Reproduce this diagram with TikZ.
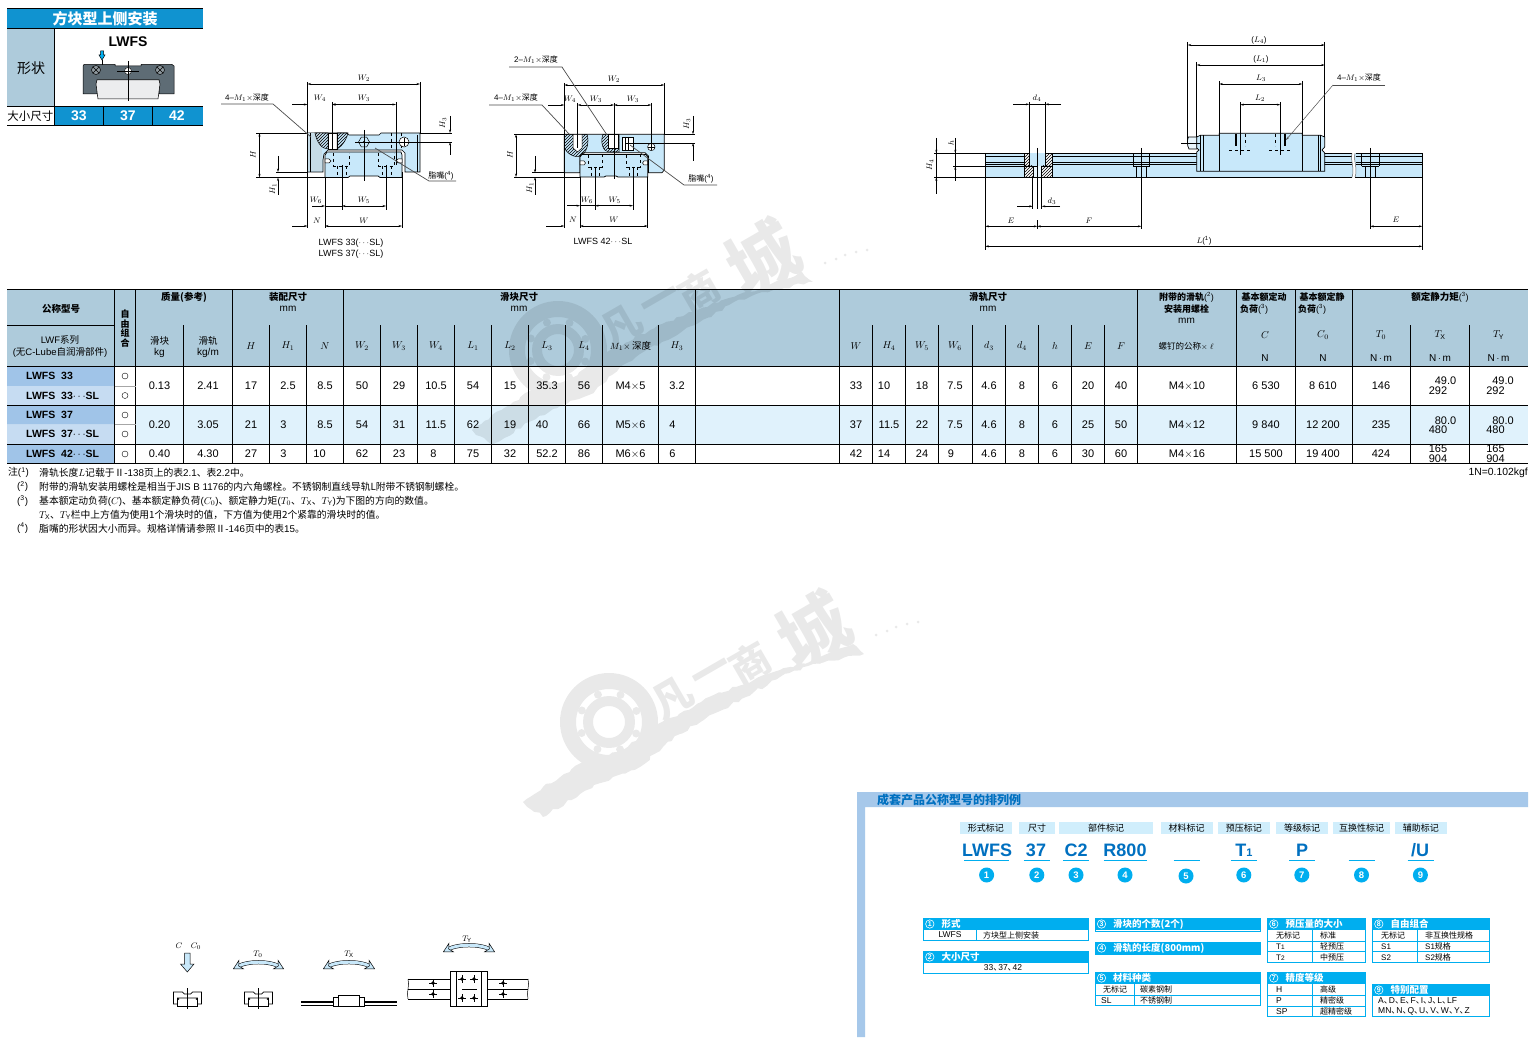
\documentclass[tikz,border=0pt]{standalone}
\usepackage{fontspec}
\setmainfont{Liberation Sans}
\newfontfamily\cjk{Noto Sans CJK SC}
\newcommand{\zh}[1]{{\cjk #1}}
\newcommand{\dun}{\zh{、}\kern-3.5pt}
\newcommand{\fs}[1]{\fontsize{#1}{#1}\selectfont}
\usetikzlibrary{arrows.meta,patterns,shapes.geometric,decorations.pathmorphing}
\definecolor{bandblue}{HTML}{1093D0}
\definecolor{headgray}{HTML}{AECBDB}
\definecolor{partblue}{HTML}{C8E8FA}
\definecolor{rowblue}{HTML}{E0F2FC}
\definecolor{namedark}{HTML}{A0C4E8}
\definecolor{namelight}{HTML}{C6DCF2}
\definecolor{sideblue}{HTML}{A6C8EA}
\definecolor{titleblue}{HTML}{0070C0}
\definecolor{tagblue}{HTML}{D0EEFC}
\definecolor{keycyan}{HTML}{00AEEF}
\definecolor{icondark}{HTML}{5E6C75}
\tikzset{
  >={Stealth[length=3.5pt,width=2pt]},
  lne/.style={line width=.7pt},
  thinl/.style={line width=.5pt},
  dim/.style={line width=.5pt,<->},
  dimin/.style={line width=.5pt,->},
  body/.style={line width=.7pt,fill=partblue},
  hatchf/.style={pattern=north east lines},
  txt/.style={inner sep=0pt,font=\fs{9}},
  note/.style={inner sep=0pt,anchor=west,font=\fs{9.8}},
  lab/.style={inner sep=0pt,font=\fs{8}},
  cell/.style={inner sep=0pt,font=\fs{11}},
  hd/.style={inner sep=0pt,font=\fs{10}},
  hdb/.style={inner sep=0pt,font=\fs{9.5}\bfseries},
  keyt/.style={inner sep=0pt,font=\fs{8.5}},
  minisec/.pic={
    \draw[lne,fill=white] (-14,7) -- (-14,-5) -- (-5,-5) -- (-3,-3) -- (3,-3) -- (5,-5) -- (14,-5) -- (14,7) -- (10,7) -- (10,1) -- (-10,1) -- (-10,7) -- cycle;
    \draw[lne] (-10,1) -- (-10,9) -- (10,9) -- (10,1);
    \draw[thinl] (0,-9) -- (0,12);
    \fill (-9,2) circle (.9pt) (9,2) circle (.9pt);
  },
  wmark/.pic={
    \begin{scope}[transparency group,opacity=.085]
    \fill[even odd rule] (0,0) circle (49pt) circle (33pt) circle (26pt) circle (16pt);
    \foreach \a in {22,67,112,157,202,247,292,337} \fill (\a:29.5pt) circle (4pt);
    \fill[decorate,decoration={random steps,segment length=5pt,amplitude=1.6pt}] (-86,80) -- (-66,65) -- (-45,52) -- (-26,40) -- (10,30) -- (49,2) -- (70,-8) -- (100,-25) -- (127,-35) -- (171,-52) -- (204,-62) -- (244,-78) -- (255,-68) -- (204,-58) -- (171,-45) -- (137,-25) -- (104,-8) -- (71,12) -- (54,25) -- (31,45) -- (4,55) -- (-29,72) -- (-66,95) -- cycle;
    \foreach \a/\b in {267/-87,278/-91,287/-95,298/-98,309/-100} \fill (\a,\b) circle (1.5pt);
    \node[inner sep=0pt,rotate=30,font=\fs{40}\cjk\bfseries] (fan) at (64,-24) {凡};
    \node[inner sep=0pt,rotate=30,font=\fs{40}\cjk\bfseries] (yi) at (104,-47) {一};
    \node[inner sep=0pt,rotate=30,font=\fs{40}\cjk\bfseries] (shang) at (141,-59) {商};
    \node[inner sep=0pt,rotate=30,font=\fs{70}\cjk\bfseries] (cheng) at (204,-92) {城};
    \end{scope}
  },
}
\newcommand{\keybox}[7]{% x1 x2 y1 y2 num title node name
  \fill[keycyan] (#1,#3) rectangle (#2,#3+12);
  \draw[keycyan,line width=.8pt] (#1,#3) rectangle (#2,#4);
  \draw[white,line width=.6pt] (#1+6.5,#3+6) circle (4.2pt);
  \node[inner sep=0pt,white,font=\fs{7}\bfseries] (n#7) at (#1+6.5,#3+6) {#5};
  \node[inner sep=0pt,white,anchor=west,font=\fs{9.5}\cjk\bfseries] (t#7) at (#1+18,#3+6) {#6};
}
\begin{document}
\begin{tikzpicture}[x=1pt,y=-1pt]
\useasboundingbox (0,0) rectangle (1535,1038);
\fill[white] (0,0) rectangle (1535,1038);
% selection panel
\fill[bandblue] (7,8) rectangle (203,28);
\fill[headgray] (7,28) rectangle (54,106);
\fill[bandblue] (54,106) rectangle (203,125);
\draw[lne] (7,8.5) -- (203,8.5) (7,28) -- (203,28) (7,106) -- (203,106) (7,125) -- (203,125);
\draw[lne] (54,28) -- (54,125) (103.5,106) -- (103.5,125) (152.5,106) -- (152.5,125);
\node[inner sep=0pt,white,font=\fs{15}\cjk\bfseries] (pTitle) at (105,19) {方块型上侧安装};
\node[inner sep=0pt,font=\fs{14}\cjk] (pShape) at (31,68) {形状};
\node[inner sep=0pt,font=\fs{14}\bfseries] (pName) at (128,42) {LWFS};
\node[inner sep=0pt,font=\fs{11.5}\cjk] (pSize) at (30.5,116) {大小尺寸};
\foreach \x/\s in {79/33,128/37,177/42}
  \node[inner sep=0pt,white,font=\fs{14}\bfseries] (p\s) at (\x,116) {\s};
% selection panel icon
\draw[line width=.5pt,fill=icondark] (83,66) -- (84,64.5) -- (115,64.5) -- (115,66) -- (141,66) -- (141,64.5) -- (172,64.5) -- (174,66) -- (174,94) -- (159,94) -- (159,80) -- (97,80) -- (97,94) -- (83,94) -- cycle;
\draw[line width=.5pt,fill=white!88!icondark] (97,80) -- (159,80) -- (160,84) -- (158,99) -- (98,99) -- (96,84) -- cycle;
\foreach \x in {96,160} {
  \draw[line width=.5pt,fill=icondark!70!white] (\x,70) circle (4.5pt);
  \draw[line width=.4pt] (\x-3,67) -- (\x+3,73) (\x+3,67) -- (\x-3,73);
}
\draw[line width=.4pt,fill=white] (128,71) circle (3.5pt);
\draw[line width=.4pt] (117,71) -- (139,71) (128,61) -- (128,101);
\draw[line width=.5pt,fill=keycyan] (100.5,51) -- (103.5,51) -- (103.5,55) -- (105,55) -- (102,60) -- (99,55) -- (100.5,55) -- cycle;
\draw[line width=.5pt] (102,60) -- (102,65);
% front view 33 / 37
\draw[body] (307.5,133) -- (347,133) -- (349,135) -- (379,135) -- (381,133) -- (420,133) -- (420,172) -- (405,172) -- (405,153) -- (402,150) -- (328,150) -- (324,154) -- (323,160) -- (323,172) -- (307.5,172) -- cycle;
\fill[headgray!70!white] (308,133.5) -- (322,133.5) -- (322,171.5) -- (308,171.5) -- cycle;
\draw[lne] (310,133) -- (310,172) (417,135) -- (417,172);
\draw[thinl,hatchf] (315,133) .. controls (317,143) and (322,149) .. (328,149) -- (328,133) -- cycle;
\draw[thinl,fill=white] (328,133) rectangle (337,149);
\draw[thinl,hatchf] (337,149) .. controls (343,146) and (347,138) .. (348,133) -- (337,133) -- cycle;
\draw[body] (327,152) -- (401,152) -- (402,155) -- (402,177.5) -- (380,177.5) -- (378,176) -- (350,176) -- (348,177.5) -- (325,177.5) -- (325,155) -- cycle;
\draw[thinl,fill=white] (325,159) -- (329,159) -- (331,161) -- (329,163) -- (325,163) -- cycle;
\draw[thinl,fill=white] (402,159) -- (398,159) -- (396,161) -- (398,163) -- (402,163) -- cycle;
\foreach \x in {341.7,386.7} {
  \draw[thinl,dashed] (\x-8,153) -- (\x-8,166) -- (\x+8,166) -- (\x+8,153);
  \draw[thinl,dashed] (\x-4.5,166) -- (\x-4.5,177) (\x+4.5,166) -- (\x+4.5,177);
}
\draw[thinl,dashed] (391,133) -- (391,149) (401,133) -- (401,149);
\draw[thinl,fill=white] (404,142) circle (5pt);
\draw[thinl] (400,142) -- (408,142) (404,138) -- (404,146);
\node[draw,line width=.5pt,regular polygon,regular polygon sides=6,minimum size=11pt,inner sep=0pt] (hexA) at (364,142) {};
\fill (364,142) circle (1.2pt);
% dimensions 33 / 37
\draw[thinl] (307.5,82) -- (307.5,228) (420,82) -- (420,133) (332,102) -- (332,150) (396,102) -- (396,165);
\draw[thinl] (342,165) -- (342,210) (386,165) -- (386,210) (325,177) -- (325,228) (402,172) -- (402,228);
\draw[thinl] (364,130) -- (364,181) (355,142) -- (452,142) (420,133) -- (452,133);
\draw[thinl] (256,133) -- (307.5,133) (256,177.5) -- (325,177.5) (276,172) -- (307.5,172);
\draw[dim] (307.5,84) -- (420,84);
\draw[dim] (332,104.5) -- (396,104.5);
\draw[dimin] (292,104.5) -- (307.5,104.5);
\draw[dimin] (340,104.5) -- (332,104.5);
\draw[dim] (259.5,133) -- (259.5,177.5);
\draw[dimin] (278,156) -- (278,172);
\draw[dimin] (278,195) -- (278,177.5);
\draw[dimin] (450,116) -- (450,133);
\draw[dimin] (450,155) -- (450,142);
\draw[dimin] (312,206) -- (325,206);
\draw[dim] (342,206) -- (386,206);
\draw[thinl] (325,206) -- (342,206);
\draw[dimin] (292,226) -- (307.5,226);
\draw[dim] (325,226) -- (402,226);
\draw[lne,color=black!70] (221,104) -- (273,104) -- (311,137);
\draw[lne,color=black!70] (375,148) -- (429,181) -- (456,181);
\node[lab] (aW2) at (364,78) {$W_2$};
\node[lab] (aW4) at (320,98) {$W_4$};
\node[lab] (aW3) at (364,98) {$W_3$};
\node[lab,rotate=90] (aH3) at (443,123) {$H_3$};
\node[lab,rotate=90] (aH) at (253,155) {$H$};
\node[lab,rotate=90] (aH1) at (273,189) {$H_1$};
\node[lab] (aW6) at (316,200) {$W_6$};
\node[lab] (aW5) at (364,200) {$W_5$};
\node[lab] (aN) at (317,221) {$N$};
\node[lab] (aW) at (364,221) {$W$};
\node[lab] (aM) at (247,98) {4--$M_1\times$\zh{深度}};
\node[lab] (aG) at (441,176) {\zh{脂嘴}(\textsuperscript{4})};
\node[txt] (aC1) at (351,243) {LWFS 33($\cdots$SL)};
\node[txt] (aC2) at (351,254) {LWFS 37($\cdots$SL)};
% front view 42
\draw[body] (564.3,134.3) -- (664.3,134.3) -- (664.3,170) -- (662,172.7) -- (648.5,172.7) -- (648.5,156) -- (645,152.7) -- (583,152.7) -- (580,156) -- (580,172.7) -- (564.3,172.7) -- cycle;
\draw[thinl,hatchf] (564.3,134.3) -- (564.3,148) .. controls (570,158) and (582,160) .. (586,150) .. controls (589,143) and (588,137) .. (587,134.3) -- cycle;
\draw[thinl,fill=white] (573,134.3) -- (573,148) -- (577.5,152) -- (582,148) -- (582,134.3) -- cycle;
\draw[thinl,hatchf] (603,134.3) .. controls (600,142) and (603,152) .. (609,152) -- (619,152) -- (619,134.3) -- cycle;
\draw[thinl,fill=white] (608,134.3) rectangle (618,148);
\draw[thinl,fill=white] (622,137) rectangle (633,150);
\draw[thinl] (625,137) -- (625,150) (628,137) -- (628,150);
\draw[thinl,fill=white] (651.3,147) circle (3.7pt);
\draw[thinl] (648,147) -- (654.6,147) (651.3,143.5) -- (651.3,150.5);
\draw[body] (582,154.5) -- (646,154.5) -- (647.7,157) -- (647.7,177) -- (618,177) -- (616,176) -- (606,176) -- (604,177) -- (580,177) -- (580,157) -- cycle;
\draw[thinl,fill=white] (580,161) -- (584,161) -- (585.5,163) -- (584,165) -- (580,165) -- cycle;
\draw[thinl,fill=white] (647.7,161) -- (644,161) -- (642.5,163) -- (644,165) -- (647.7,165) -- cycle;
\foreach \x in {595,633} {
  \draw[thinl,dashed] (\x-7,155) -- (\x-7,167) -- (\x+7,167) -- (\x+7,155);
  \draw[thinl,dashed] (\x-4,167) -- (\x-4,177) (\x+4,167) -- (\x+4,177);
}
% dimensions 42
\draw[thinl] (564.3,83) -- (564.3,228) (664.3,83) -- (664.3,134) (577.7,103) -- (577.7,148) (614,103) -- (614,179) (651.3,103) -- (651.3,150);
\draw[thinl] (595,167) -- (595,210) (633,167) -- (633,210) (580,177) -- (580,228) (647.7,177) -- (647.7,228);
\draw[thinl] (514,134.3) -- (564.3,134.3) (514,177) -- (580,177) (532,172.7) -- (564.3,172.7) (664.3,134.3) -- (695,134.3) (625,143) -- (695,143);
\draw[dim] (564.3,85) -- (664.3,85);
\draw[dimin] (548,105) -- (564.3,105);
\draw[dim] (577.7,105) -- (614,105);
\draw[dim] (614,105) -- (651.3,105);
\draw[dim] (516,134.3) -- (516,177);
\draw[dimin] (535,156) -- (535,172.7);
\draw[dimin] (535,195) -- (535,177);
\draw[dimin] (693,116) -- (693,134.3);
\draw[dimin] (693,161) -- (693,143);
\draw[dimin] (567,205.7) -- (580,205.7);
\draw[dim] (595,205.7) -- (633,205.7);
\draw[thinl] (580,205.7) -- (595,205.7);
\draw[dimin] (546,226) -- (564.3,226);
\draw[dim] (580,226) -- (647.7,226);
\draw[lne,color=black!70] (489,105) -- (542,105) -- (570,135);
\draw[lne,color=black!70] (509,67) -- (562,67) -- (607,135);
\draw[lne,color=black!70] (630,145) -- (684,185) -- (717,185);
\node[lab] (bW2) at (614,79) {$W_2$};
\node[lab] (bW4) at (570,99) {$W_4$};
\node[lab] (bW3a) at (596,99) {$W_3$};
\node[lab] (bW3b) at (633,99) {$W_3$};
\node[lab,rotate=90] (bH3) at (687,124) {$H_3$};
\node[lab,rotate=90] (bH) at (510,155) {$H$};
\node[lab,rotate=90] (bH1) at (530,188) {$H_1$};
\node[lab] (bW6) at (587,200) {$W_6$};
\node[lab] (bW5) at (614.7,200) {$W_5$};
\node[lab] (bN) at (573,220) {$N$};
\node[lab] (bW) at (614,220) {$W$};
\node[lab] (bMa) at (516,98) {4--$M_1\times$\zh{深度}};
\node[lab] (bMb) at (536,60) {2--$M_1\times$\zh{深度}};
\node[lab] (bG) at (701,179) {\zh{脂嘴}(\textsuperscript{4})};
\node[txt] (bC) at (603,241) {LWFS 42$\cdots$SL};
% side view
\fill[partblue] (985.3,153.3) -- (1352,153.3) .. controls (1350,160) and (1355,168) .. (1352,177.3) -- (985.3,177.3) -- cycle;
\fill[partblue] (1355,153.3) .. controls (1353,160) and (1358,168) .. (1355,177.3) -- (1422.3,177.3) -- (1422.3,153.3) -- cycle;
\foreach \y in {153.3,156,162.7,164.7} {
  \draw[thinl] (985.3,\y) -- (1200,\y) (1320,\y) -- (1351.5,\y) (1355.5,\y) -- (1422.3,\y);
}
\draw[lne] (985.3,177.3) -- (1352,177.3) (1355,177.3) -- (1422.3,177.3);
\draw[thinl,color=black!60] (1352,153.3) .. controls (1350,160) and (1355,168) .. (1352,177.3);
\draw[thinl,color=black!60] (1355,153.3) .. controls (1353,160) and (1358,168) .. (1355,177.3);
\fill[white] (1024.7,153.3) rectangle (1052.3,177.3);
\fill[partblue] (1029.3,153.3) rectangle (1045.3,166);
\fill[partblue!40!white] (1033.7,166) rectangle (1041,177.3);
\draw[thinl,hatchf] (1024.7,153.3) rectangle (1029.3,166);
\draw[thinl,hatchf] (1045.3,153.3) rectangle (1052.3,166);
\draw[thinl,hatchf] (1024.7,166) rectangle (1033.7,177.3);
\draw[thinl,hatchf] (1041,166) rectangle (1052.3,177.3);
\foreach \x/\a/\b in {1141.3/8.2/5.3,1370.3/8.7/5.3} {
  \draw[thinl] (\x-\a,153.3) -- (\x-\a,166) (\x+\a,153.3) -- (\x+\a,166);
  \draw[thinl] (\x-\a,166) -- (\x+\a,166);
  \draw[thinl] (\x-\b,166) -- (\x-\b,177.3) (\x+\b,166) -- (\x+\b,177.3);
}
\draw[lne,fill=partblue!40!white] (1188.3,137) .. controls (1187,142) and (1187,145) .. (1189,149) -- (1197,149) -- (1197,137) -- cycle;
\draw[body] (1196.7,171.3) -- (1196.7,152) -- (1199,150) -- (1196.7,148) -- (1196.7,137) -- (1200.3,135.3) -- (1219.3,135.3) -- (1219.3,133.3) -- (1302.3,133.3) -- (1302.3,135.3) -- (1320.7,135.3) -- (1324.7,137) -- (1324.7,147) -- (1322,150) -- (1324.7,153) -- (1324.7,171.3) -- cycle;
\draw[lne] (1200.3,135.3) -- (1200.3,171.3) (1203,135.3) -- (1203,171.3) (1219.3,133.3) -- (1219.3,171.3) (1302.3,133.3) -- (1302.3,171.3) (1318.3,135.3) -- (1318.3,171.3) (1320.7,135.3) -- (1320.7,171.3);
\draw[line width=1.6pt] (1235.7,134) -- (1235.7,146) (1285,134) -- (1285,146);
\draw[thinl,dashed] (1245,134) -- (1245,146) (1275.7,134) -- (1275.7,146);
\draw[thinl,dashed] (1229,150) -- (1252,150) (1269,150) -- (1292,150);
% dimensions side view
\draw[thinl] (1181,143) -- (1200,143) (1187.7,42) -- (1187.7,143) (1324.7,42) -- (1324.7,137) (1196.7,62) -- (1196.7,137) (1219.3,81) -- (1219.3,133) (1302.3,81) -- (1302.3,133);
\draw[thinl] (1240.3,102) -- (1240.3,155) (1280.3,102) -- (1280.3,155);
\draw[dim] (1187.7,45) -- (1324.7,45);
\draw[dim] (1196.7,65) -- (1324.7,65);
\draw[dim] (1219.3,84) -- (1302.3,84);
\draw[dim] (1240.3,104.7) -- (1280.3,104.7);
\draw[thinl] (1029.3,102) -- (1029.3,153) (1045.3,102) -- (1045.3,153);
\draw[dimin] (1013,104.3) -- (1029.3,104.3);
\draw[dimin] (1061,104.3) -- (1045.3,104.3);
\draw[thinl] (1029.3,104.3) -- (1045.3,104.3);
\draw[thinl] (1037.3,148) -- (1037.3,209) (1037.3,220) -- (1037.3,229) (1141.3,148) -- (1141.3,229) (1370.3,148) -- (1370.3,229);
\draw[thinl] (1032.7,177) -- (1032.7,209) (1041.7,177) -- (1041.7,209);
\draw[dimin] (1017,206.3) -- (1032.7,206.3);
\draw[dimin] (1060,206.3) -- (1041.7,206.3);
\draw[dim] (985.3,226.3) -- (1037.3,226.3);
\draw[dim] (1037.3,226.3) -- (1141.3,226.3);
\draw[dim] (1370.3,226.3) -- (1422.3,226.3);
\draw[dim] (985.3,246.3) -- (1422.3,246.3);
\draw[thinl] (985.3,153) -- (985.3,250) (1422.3,153) -- (1422.3,250);
\draw[thinl] (934,153.3) -- (985.3,153.3) (934,177.3) -- (985.3,177.3) (953,166.3) -- (1037,166.3);
\draw[thinl] (936.3,138) -- (936.3,193.7) (955.3,138) -- (955.3,181);
\draw[dimin] (936.3,143) -- (936.3,153.3);
\draw[dimin] (936.3,187) -- (936.3,177.3);
\draw[dimin] (955.3,143) -- (955.3,153.3);
\draw[dimin] (955.3,176) -- (955.3,166.3);
\draw[line width=.5pt,color=black!70] (1385,85) -- (1333,85);
\draw[line width=.5pt,color=black!70,->] (1333,85) -- (1286,140);
\node[lab] (cL4) at (1259,40) {($L_4$)};
\node[lab] (cL1) at (1261,59) {($L_1$)};
\node[lab] (cL3) at (1261,78) {$L_3$};
\node[lab] (cL2) at (1260,98) {$L_2$};
\node[lab] (cd4) at (1037,98) {$d_4$};
\node[lab] (cd3) at (1052,201) {$d_3$};
\node[lab] (cEa) at (1011,221) {$E$};
\node[lab] (cF) at (1089,221) {$F$};
\node[lab] (cEb) at (1396,220) {$E$};
\node[lab] (cL) at (1204,241) {$L$(\textsuperscript{1})};
\node[lab,rotate=90] (cH4) at (930,165) {$H_4$};
\node[lab,rotate=90] (ch) at (951,143) {$h$};
\node[lab] (cM) at (1359,78) {4--$M_1\times$\zh{深度}};
% table fills
\fill[headgray] (7,289) rectangle (1528,366.7);
\fill[rowblue] (135.5,405.5) rectangle (1528,444);
\fill[namedark] (7,366.7) rectangle (114.5,386) (7,405.5) rectangle (114.5,424.7) (7,444) rectangle (114.5,463.5);
\fill[namelight] (7,386) rectangle (114.5,405.5) (7,424.7) rectangle (114.5,444);
% watermarks over the table and on the page
\pic (wmA) at (558,350) {wmark};
\pic (wmB) at (609,722) {wmark};
% table rules
\foreach \x in {183.5,269.3,306.3,380.3,417.3,454.3,491.3,528.3,565.7,602.7,658.3,872.3,905.7,938.3,972.3,1005.7,1038.7,1071.7,1104.7,1410.7,1469.3} {
  \draw[lne] (\x,325) -- (\x,463.5);
}
\foreach \x in {114.5,135.5,232.3,343.3,695.3,839.3,1137.7,1236.7,1295,1352.7} {
  \draw[lne] (\x,289) -- (\x,463.5);
}
\foreach \y in {289,366.7,405.5,444,463.5} {
  \draw[lne] (7,\y) -- (1528,\y);
}
\draw[lne] (7,325) -- (114.5,325);
\draw[thinl,color=black!35] (114.5,386) -- (135.5,386) (114.5,424.7) -- (135.5,424.7);
% table head
\node[hdb] (hName) at (61,309) {\cjk 公称型号};
\node[hd,font=\fs{9.5}] (hSerA) at (60,340) {LWF\zh{系列}};
\node[hd,font=\fs{9.5}] (hSerB) at (60,352) {(\zh{无}C-Lube\zh{自润滑部件})};
\foreach \y/\s in {314/自,323.7/由,333.4/组,343/合}
  \node[hdb,font=\fs{9}\bfseries] (hF\s) at (125,\y) {\cjk \s};
\node[hdb] (hMass) at (184,297) {\cjk 质量(参考)};
\node[hdb] (hMnt) at (288,297) {\cjk 装配尺寸};
\node[hd] (hMntU) at (288,309) {mm};
\node[hdb] (hBlk) at (519,297) {\cjk 滑块尺寸};
\node[hd] (hBlkU) at (519,309) {mm};
\node[hdb] (hRail) at (988,297) {\cjk 滑轨尺寸};
\node[hd] (hRailU) at (988,309) {mm};
\node[hdb,font=\fs{9}\bfseries] (hBltA) at (1186.5,297) {\cjk 附带的滑轨\normalfont\fs{9}(\textsuperscript{2})};
\node[hdb,font=\fs{9}\bfseries] (hBltB) at (1186.5,309) {\cjk 安装用螺栓};
\node[hd] (hBltU) at (1186.5,321) {mm};
\node[hd,font=\fs{8.5}] (hBltC) at (1186,346) {\zh{螺钉的公称}$\times$ $\ell$};
\node[hdb,font=\fs{9}\bfseries] (hCa) at (1264,297) {\cjk 基本额定动};
\node[hdb,font=\fs{9}\bfseries,anchor=west] (hCb) at (1240,309) {\cjk 负荷\normalfont\fs{9}(\textsuperscript{3})};
\node[hdb,font=\fs{9}\bfseries] (hDa) at (1322,297) {\cjk 基本额定静};
\node[hdb,font=\fs{9}\bfseries,anchor=west] (hDb) at (1298,309) {\cjk 负荷\normalfont\fs{9}(\textsuperscript{3})};
\node[hdb] (hTq) at (1440,297) {\cjk 额定静力矩\normalfont\fs{9}(\textsuperscript{3})};
\node[hd,font=\fs{9.5}] (hKa) at (159.5,341) {\zh{滑块}};
\node[hd] (hKb) at (159.5,353) {kg};
\node[hd,font=\fs{9.5}] (hKc) at (208,341) {\zh{滑轨}};
\node[hd] (hKd) at (208,353) {kg/m};
\foreach \x/\n/\s in {251/a/H,288/b/H_1,325/c/N,362/d/W_2,399/e/W_3,436/f/W_4,473/g/L_1,510/h/L_2,547/i/L_3,584/j/L_4,677/k/H_3,856/l/W,889/m/H_4,922/n/W_5,955/o/W_6,989/p/d_3,1022/q/d_4,1055/r/h,1088/s/E,1121/t/F}
  \node[hd] (col\n) at (\x,346) {$\s$};
\node[hd,font=\fs{9.5}] (colM) at (630.5,346) {$M_1\times$\,\zh{深度}};
\foreach \x/\n/\s/\u in {1265/a/C/N,1323/b/C_0/N,1381/c/T_0/N\,$\cdot$\,m,1440/d/T_{\mathrm X}/N\,$\cdot$\,m,1498.5/e/T_{\mathrm Y}/N\,$\cdot$\,m} {
  \node[hd] (sym\n) at (\x,335) {$\s$};
  \node[hd] (uni\n) at (\x,358) {\u};
}
% table body
\foreach \y/\n/\s in {376/a/33,395.5/b/33$\cdots$SL,415/c/37,434/d/37$\cdots$SL,454/e/42$\cdots$SL} {
  \node[inner sep=0pt,anchor=west,font=\fs{10.5}\bfseries] (nm\n) at (26,\y) {LWFS\ \ \s};
  \draw[line width=.4pt] (125,\y) circle (3pt);
}
\foreach \x/\n/\a/\b/\c in {
  159.5/a/0.13/0.20/0.40,208/b/2.41/3.05/4.30,251/c/17/21/27,
  288/d/2.5/3\kern9pt/3\kern9pt,325/e/8.5/8.5/10\kern11pt,362/f/50/54/62,
  399/g/29/31/23,436/h/10.5/11.5/8\kern5pt,473/i/54/62/75,510/j/15/19/32,
  547/k/35.3/40\kern10pt/52.2,584/l/56/66/86,630.5/m/M4$\times$5/M5$\times$6/M6$\times$6,
  677/n/3.2/4\kern9pt/6\kern9pt,856/o/33/37/42,889/p/10\kern10pt/11.5/14\kern10pt,
  922/q/18/22/24,955/r/7.5/7.5/9\kern8pt,989/s/4.6/4.6/4.6,1022/t/8/8/8,
  1055/u/6/6/6,1088/v/20/25/30,1121/w/40/50/60,1187/x/M4$\times$10/M4$\times$12/M4$\times$16,
  1266/y/6 530/9 840/15 500,1323/z/8 610/12 200/19 400,1381/A/146/235/424} {
  \node[cell] (da\n) at (\x,386) {\a};
  \node[cell] (db\n) at (\x,425) {\b};
  \node[cell] (dc\n) at (\x,454) {\c};
}
\foreach \x/\n in {1438/a,1495.5/b} {
  \node[cell] (ea\n) at (\x+7.5,381) {49.0};
  \node[cell] (eb\n) at (\x,390.5) {292};
  \node[cell] (ec\n) at (\x+7.5,420.5) {80.0};
  \node[cell] (ed\n) at (\x,430) {480};
  \node[cell] (ee\n) at (\x,449) {165};
  \node[cell] (ef\n) at (\x,459) {904};
}
% notes
\node[note] (ntA) at (8,472.5) {\zh{注}(\textsuperscript{1})};
\node[note] (ntB) at (17,486.7) {(\textsuperscript{2})};
\node[note] (ntC) at (17,501) {(\textsuperscript{3})};
\node[note] (ntE) at (17,528.3) {(\textsuperscript{4})};
\node[note] (txA) at (39,472.5) {\zh{滑轨长度}$L$\zh{记载于Ⅱ}-138\zh{页上的表}2.1\zh{、表}2.2\zh{中。}};
\node[note] (txB) at (39,486.7) {\zh{附带的滑轨安装用螺栓是相当于}JIS B 1176\zh{的内六角螺栓。不锈钢制直线导轨L附带不锈钢制螺栓。}};
\node[note] (txC) at (39,501) {\zh{基本额定动负荷}($C$)\zh{、基本额定静负荷}($C_0$)\zh{、额定静力矩}($T_0$\zh{、}$T_{\mathrm X}$\zh{、}$T_{\mathrm Y}$)\zh{为下图的方向的数值。}};
\node[note] (txD) at (39,515) {$T_{\mathrm X}$\zh{、}$T_{\mathrm Y}$\zh{栏中上方值为使用1个滑块时的值，下方值为使用2个紧靠的滑块时的值。}};
\node[note] (txE) at (39,528.3) {\zh{脂嘴的形状因大小而异。规格详情请参照Ⅱ}-146\zh{页中的表}15\zh{。}};
\node[inner sep=0pt,anchor=east,font=\fs{10.4}] (ntF) at (1528,473) {1N=0.102kgf};
% moment figures
\node[lab] (mC) at (179,946) {$C$};
\node[lab] (mC0) at (196,946) {$C_0$};
\draw[line width=.5pt,fill=partblue] (184.5,953) -- (190,953) -- (190,964) -- (194,964) -- (187.3,972) -- (180.5,964) -- (184.5,964) -- cycle;
\pic (secA) at (187.5,997) {minisec};
\pic (secB) at (258.5,997) {minisec};
\tikzset{twist/.style={line width=.5pt,double=partblue,double distance=3pt,{Stealth[length=10pt,width=11pt,fill=partblue]}-{Stealth[length=10pt,width=11pt,fill=partblue]}}}
\draw[twist] (233,969) .. controls (248,961) and (269,961) .. (284,969);
\draw[twist] (323,969) .. controls (338,961) and (360,961) .. (375,969);
\draw[twist] (443,952) .. controls (458,944) and (480,944) .. (495,952);
\node[lab] (mT0) at (258,954) {$T_0$};
\node[lab] (mTX) at (349,954) {$T_{\mathrm X}$};
\node[lab] (mTY) at (467,939) {$T_{\mathrm Y}$};
\draw[lne] (301,1005.5) -- (397,1005.5);
\draw[line width=2.4pt] (301,1002) -- (397,1002);
\draw[lne,fill=white] (333.5,997) rectangle (364,1006);
\draw[lne,fill=white] (338,995) rectangle (359,1006);
\draw[lne] (408,979) -- (450,979) (408,989) -- (450,989) (408,999) -- (450,999) (487,979) -- (528,979) (487,989) -- (528,989) (487,999) -- (528,999);
\draw[thinl] (408,979) .. controls (410,986) and (406,992) .. (408,999) (528,979) .. controls (530,986) and (526,992) .. (528,999);
\draw[lne,fill=white] (450,971) rectangle (487,1006);
\draw[lne] (456,971) -- (456,1006) (481.7,971) -- (481.7,1006);
\draw[lne] (462,989) -- (477,989);
\foreach \x/\y in {433/983,433/994,503/983,503/994,462/979,474/979,462/998,474/998} {
  \fill (\x,\y) circle (1.8pt);
  \draw[thinl] (\x-4,\y) -- (\x+4,\y) (\x,\y-4) -- (\x,\y+4);
}
% ordering code
\fill[sideblue] (857,792) rectangle (1528,807) (857,807) rectangle (865,1037);
\node[inner sep=0pt,anchor=west,titleblue,font=\fs{12}\cjk\bfseries] (oTitle) at (877,800) {成套产品公称型号的排列例};
\foreach \a/\b/\s/\n in {960/1011.5/形式标记/a,1019/1055/尺寸/b,1059/1153/部件标记/c,1160.6/1212.5/材料标记/d,1217.7/1270/预压标记/e,1276/1328/等级标记/f,1333/1390/互换性标记/g,1394.7/1447/辅助标记/h} {
  \fill[tagblue] (\a,821.7) rectangle (\b,834.3);
  \node[inner sep=0pt,font=\fs{9}\cjk] (tag\n) at ({(\a+\b)/2},828) {\s};
}
\foreach \x/\s/\n in {987/LWFS/a,1036/37/b,1076/C2/c,1125/R800/d,1302/P/e,1420/{/U}/f}
  \node[inner sep=0pt,titleblue,font=\fs{18}\bfseries] (cod\n) at (\x,850) {\s};
\node[inner sep=0pt,titleblue,font=\fs{18}\bfseries] (codT) at (1244,850) {T{\fs{11}1}};
\foreach \a/\b in {964.4/1009,1023.7/1050,1063/1089,1103.5/1146.6,1173.6/1200,1230.8/1257,1289/1314.5,1348.5/1374.6,1407.7/1434} {
  \draw[keycyan,line width=.8pt] (\a,860.7) -- (\b,860.7);
}
\foreach \x/\y/\s in {986.6/875/1,1036.8/875/2,1076/875/3,1125/875/4,1186/876/5,1243.8/875/6,1301.8/875/7,1361.5/875/8,1420.4/875/9} {
  \fill[keycyan] (\x,\y) circle (7.5pt);
  \node[inner sep=0pt,white,font=\fs{9.5}\bfseries] (num\s) at (\x,\y) {\s};
}
% key boxes
\keybox{923.3}{1088}{918}{940.7}{1}{形式}{a}
\draw[keycyan,line width=.8pt] (976.7,930) -- (976.7,940.7);
\node[keyt] (kaL) at (950,935) {LWFS};
\node[keyt,anchor=west,font=\fs{8}] (kaR) at (983,935.5) {\zh{方块型上侧安装}};
\keybox{923.3}{1088}{951}{973.7}{2}{大小尺寸}{b}
\node[keyt] (kbT) at (1003,968) {33\dun 37\dun 42};
\keybox{1095}{1260}{918}{931}{3}{滑块的个数(2个)}{c}
\keybox{1095}{1260}{942}{954.5}{4}{滑轨的长度(800mm)}{d}
\keybox{1095}{1260}{972}{1005.7}{5}{材料种类}{e}
\draw[keycyan,line width=.8pt] (1134.3,984) -- (1134.3,1005.7) (1095,995) -- (1260,995);
\node[keyt,font=\fs{8}] (keA) at (1115,989.5) {\zh{无标记}};
\node[keyt,anchor=west,font=\fs{8}] (keB) at (1140,989.5) {\zh{碳素钢制}};
\node[keyt,anchor=west] (keC) at (1101,1000.5) {SL};
\node[keyt,anchor=west,font=\fs{8}] (keD) at (1140,1000.5) {\zh{不锈钢制}};
\keybox{1267.3}{1365.7}{918}{962.7}{6}{预压量的大小}{f}
\draw[keycyan,line width=.8pt] (1312.3,930) -- (1312.3,962.7) (1267.3,941) -- (1365.7,941) (1267.3,951.7) -- (1365.7,951.7);
\foreach \y/\a/\b/\n in {935.5/\zh{无标记}/\zh{标准}/a,946.5/T{\fs{6.5}1}/\zh{轻预压}/b,957.5/T{\fs{6.5}2}/\zh{中预压}/c} {
  \node[keyt,font=\fs{8},anchor=west] (kf\n) at (1276,\y) {\a};
  \node[keyt,font=\fs{8},anchor=west] (kg\n) at (1320,\y) {\b};
}
\keybox{1267.3}{1365.7}{972}{1016.7}{7}{精度等级}{g}
\draw[keycyan,line width=.8pt] (1312.3,984) -- (1312.3,1016.7) (1267.3,995) -- (1365.7,995) (1267.3,1006) -- (1365.7,1006);
\foreach \y/\a/\b/\n in {989.5/H/\zh{高级}/a,1000.5/P/\zh{精密级}/b,1011.5/SP/\zh{超精密级}/c} {
  \node[keyt,anchor=west] (kh\n) at (1276,\y) {\a};
  \node[keyt,font=\fs{8},anchor=west] (ki\n) at (1320,\y) {\b};
}
\keybox{1372.3}{1489.7}{918}{962.7}{8}{自由组合}{h}
\draw[keycyan,line width=.8pt] (1417.7,930) -- (1417.7,962.7) (1372.3,941) -- (1489.7,941) (1372.3,951.7) -- (1489.7,951.7);
\foreach \y/\a/\b/\n in {935.5/\zh{无标记}/\zh{非互换性规格}/a,946.5/S1/S1\zh{规格}/b,957.5/S2/S2\zh{规格}/c} {
  \node[keyt,font=\fs{8},anchor=west] (kj\n) at (1381,\y) {\a};
  \node[keyt,font=\fs{8},anchor=west] (kk\n) at (1425,\y) {\b};
}
\keybox{1372.3}{1489.7}{984}{1016.7}{9}{特别配置}{i}
\node[keyt,anchor=west] (klA) at (1378,1001) {A\dun D\dun E\dun F\dun I\dun J\dun L\dun LF};
\node[keyt,anchor=west] (klB) at (1378,1011) {MN\dun N\dun Q\dun U\dun V\dun W\dun Y\dun Z};
\end{tikzpicture}
\end{document}
